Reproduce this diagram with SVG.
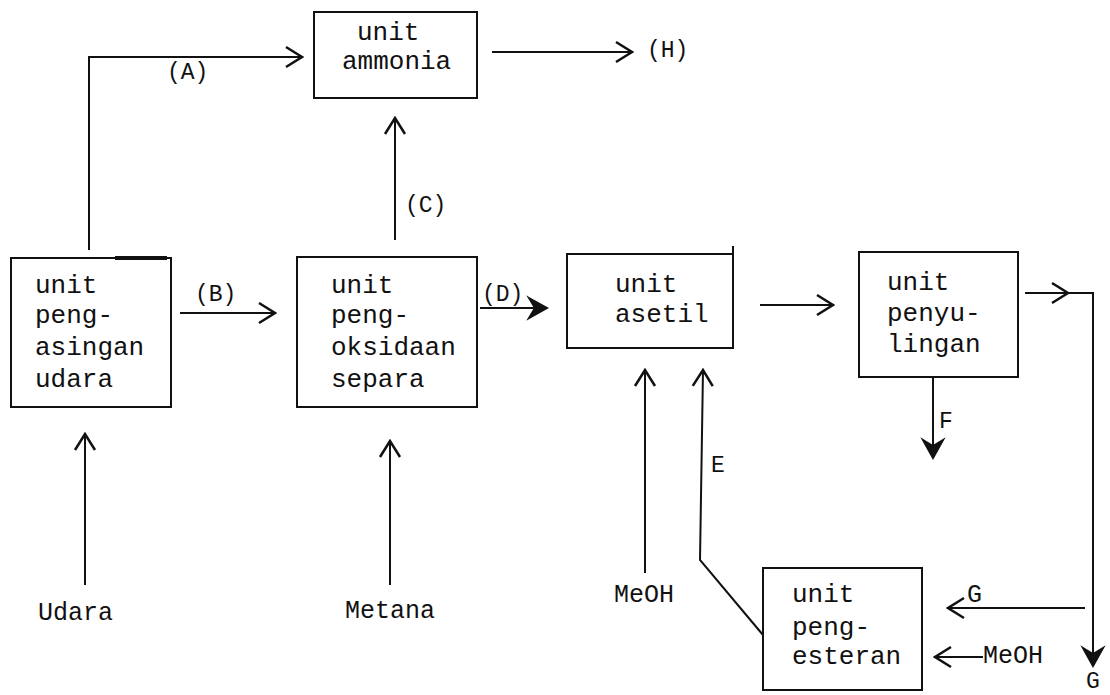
<svg xmlns="http://www.w3.org/2000/svg" width="1110" height="695" viewBox="0 0 1110 695">
<style>
.box{fill:none;stroke:#111;stroke-width:2}
.ln{fill:none;stroke:#111;stroke-width:2}
.t{font-family:"Liberation Mono","Courier New",monospace;font-size:26px;fill:#111}
.s{font-family:"Liberation Mono","Courier New",monospace;font-size:23px;fill:#111}
.l{font-family:"Liberation Mono","Courier New",monospace;font-size:25px;fill:#111}
</style>
<defs>
<marker id="open" markerUnits="userSpaceOnUse" markerWidth="26" markerHeight="26" viewBox="0 0 26 26" refX="24" refY="13" orient="auto">
<path d="M8,3 L24,13 L8,23" fill="none" stroke="#111" stroke-width="2.5"/>
</marker>
<marker id="fill" markerUnits="userSpaceOnUse" markerWidth="26" markerHeight="26" viewBox="0 0 26 26" refX="24" refY="13" orient="auto">
<path d="M6,3 L24,13 L6,23 L12,13 Z" fill="#111" stroke="#111" stroke-width="2"/>
</marker>
</defs>
<rect width="1110" height="695" fill="#fff"/>
<g id="connectors">
<path class="ln" d="M89,250 V57 H302" marker-end="url(#open)"/>
<path class="ln" d="M492,52 H632" marker-end="url(#open)"/>
<path class="ln" d="M395,240 V118" marker-end="url(#open)"/>
<path class="ln" d="M180,313 H275" marker-end="url(#open)"/>
<path class="ln" d="M480,308 H547" marker-end="url(#fill)"/>
<path class="ln" d="M760,305 H833" marker-end="url(#open)"/>
<path class="ln" d="M1025,293 H1068" marker-end="url(#open)"/>
<path class="ln" d="M1068,293 H1093 V666" marker-end="url(#fill)"/>
<path class="ln" d="M933,378 V458" marker-end="url(#fill)"/>
<path class="ln" d="M85,585 V434" marker-end="url(#open)"/>
<path class="ln" d="M390,585 V441" marker-end="url(#open)"/>
<path class="ln" d="M645,573 V370" marker-end="url(#open)"/>
<path class="ln" d="M763,635 L700,560 L703,370" marker-end="url(#open)"/>
<path class="ln" d="M1085,608 H948" marker-end="url(#open)"/>
<path class="ln" d="M983,657 H935" marker-end="url(#open)"/>
<text class="s" x="167" y="79">(A)</text>
<text class="s" x="647" y="57">(H)</text>
<text class="s" x="405" y="212">(C)</text>
<text class="s" x="195" y="301">(B)</text>
<text class="s" x="482" y="301">(D)</text>
<text class="s" x="939" y="428">F</text>
<text class="s" x="711" y="472">E</text>
<text class="l" x="967" y="602">G</text>
<text class="l" x="983" y="663">MeOH</text>
<text class="s" x="1086" y="688">G</text>
<text class="l" x="38" y="620">Udara</text>
<text class="l" x="345" y="618">Metana</text>
<text class="l" x="614" y="602">MeOH</text>
</g>
<g id="unit-ammonia">
<rect class="box" x="314" y="12" width="163" height="86"/>
<text class="t" x="357" y="40">unit</text>
<text class="t" x="342" y="69">ammonia</text>
</g>
<g id="unit-pengasingan">
<rect class="box" x="11" y="258" width="160" height="149"/>
<line x1="115" y1="258" x2="167" y2="258" stroke="#111" stroke-width="4"/>
<text class="t" x="35" y="293">unit</text>
<text class="t" x="35" y="323">peng-</text>
<text class="t" x="35" y="355">asingan</text>
<text class="t" x="35" y="387">udara</text>
</g>
<g id="unit-pengoksidaan">
<rect class="box" x="297" y="257" width="180" height="150"/>
<text class="t" x="331" y="293">unit</text>
<text class="t" x="331" y="323">peng-</text>
<text class="t" x="331" y="355">oksidaan</text>
<text class="t" x="331" y="387">separa</text>
</g>
<g id="unit-asetil">
<rect class="box" x="567" y="254" width="166" height="94"/>
<line x1="733" y1="246" x2="733" y2="254" stroke="#111" stroke-width="2"/>
<text class="t" x="615" y="292">unit</text>
<text class="t" x="615" y="322">asetil</text>
</g>
<g id="unit-penyulingan">
<rect class="box" x="859" y="252" width="159" height="125"/>
<text class="t" x="887" y="290">unit</text>
<text class="t" x="887" y="321">penyu-</text>
<text class="t" x="887" y="352">lingan</text>
</g>
<g id="unit-pengesteran">
<rect class="box" x="763" y="568" width="159" height="122"/>
<text class="t" x="792" y="602">unit</text>
<text class="t" x="792" y="635">peng-</text>
<text class="t" x="792" y="664">esteran</text>
</g>
</svg>
